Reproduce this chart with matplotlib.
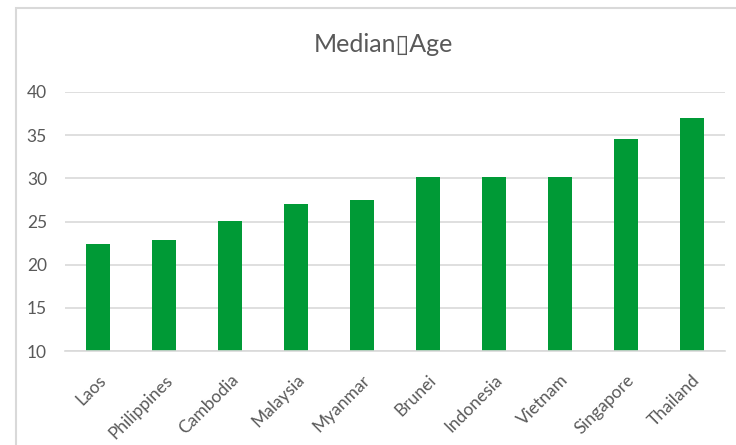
import matplotlib
matplotlib.use("Agg")
from matplotlib import pyplot as plt
from matplotlib.patches import Rectangle

countries = ["Laos", "Philippines", "Cambodia", "Malaysia", "Myanmar",
             "Brunei", "Indonesia", "Vietnam", "Singapore", "Thailand"]
median_age = [22.4, 22.9, 25.1, 27.0, 27.5, 30.1, 30.1, 30.1, 34.6, 37.0]
y_ticks = [10, 15, 20, 25, 30, 35, 40]

plt.rcParams['font.family'] = ['Lato', 'DejaVu Sans']

text_color = '#595959'
grid_color = '#d9d9d9'

fig = plt.figure(figsize=(7.36, 4.45), dpi=100)

# рамка области диаграммы
fig.patches.append(Rectangle((16 / 736, -0.01), 1.0, 1 - 8 / 445 + 0.01,
                             transform=fig.transFigure, fill=False,
                             edgecolor=grid_color, linewidth=1.5))

ax = fig.add_axes([65 / 736, 1 - 351 / 445, 660 / 736, 259 / 445])

x = range(len(countries))
ax.bar(x, median_age, width=0.35, color='#009A36', zorder=3)

ax.set_xlim(-0.5, len(countries) - 0.5)
ax.set_ylim(10, 40)
ax.set_yticks(y_ticks)
ax.yaxis.grid(True, color=grid_color, linewidth=1.2, zorder=0)

for side in ['left', 'right', 'top']:
    ax.spines[side].set_visible(False)
ax.spines['bottom'].set_color(grid_color)
ax.spines['bottom'].set_linewidth(1.2)
ax.spines['bottom'].set_zorder(4)

ax.set_xticks(list(x))
ax.set_xticklabels(countries, rotation=45, ha='right', va='top',
                   rotation_mode='anchor')
ax.tick_params(axis='x', length=0, pad=15, labelsize=12.5, labelcolor=text_color)
ax.tick_params(axis='y', length=0, pad=13, labelsize=12.5, labelcolor=text_color)

fig.text(383 / 736, 1 - 45 / 445, "Median\u25afAge", ha='center', va='center',
         fontsize=18, color=text_color)

fig.savefig("out.png", dpi=100)
